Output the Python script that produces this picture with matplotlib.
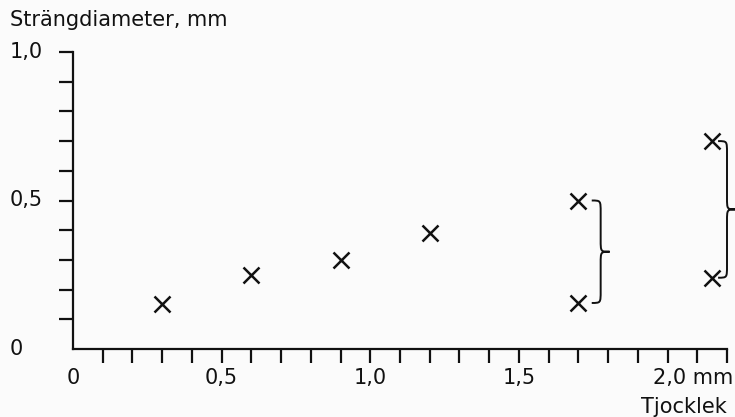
import numpy as np
import matplotlib
matplotlib.use("Agg")
import matplotlib.pyplot as plt
from matplotlib.path import Path
from matplotlib.patches import PathPatch
from matplotlib import transforms

plt.rcParams['font.family'] = ['DejaVu Sans']

# thickness (mm) vs strand diameter (mm)
thickness = [0.3, 0.6, 0.9, 1.2, 1.7, 1.7, 2.15, 2.15]
diameter = [0.15, 0.25, 0.30, 0.39, 0.50, 0.155, 0.70, 0.24]

# pairs marked with a brace: (x, top, bottom)
brace_x = [1.7, 2.15]
brace_top = [0.50, 0.70]
brace_bot = [0.155, 0.24]
brace_gap = [0.045, 0.02]

x_label_pos = [0, 0.5, 1.0, 1.5]
x_label_txt = ['0', '0,5', '1,0', '1,5']
y_label_pos = [0, 0.5, 1.0]
y_label_txt = ['0', '0,5', '1,0']

ink = '#111111'
fs = 15


def brace(ax, x, ytop, ybot, a, r):
    ymid = (ytop + ybot) / 2
    verts = [(x, ytop),
             (x + a, ytop), (x + a, ytop), (x + a, ytop - r),
             (x + a, ymid + r),
             (x + a, ymid), (x + a, ymid), (x + 2 * a, ymid),
             (x + a, ymid), (x + a, ymid), (x + a, ymid - r),
             (x + a, ybot + r),
             (x + a, ybot), (x + a, ybot), (x, ybot)]
    codes = [Path.MOVETO,
             Path.CURVE4, Path.CURVE4, Path.CURVE4,
             Path.LINETO,
             Path.CURVE4, Path.CURVE4, Path.CURVE4,
             Path.CURVE4, Path.CURVE4, Path.CURVE4,
             Path.LINETO,
             Path.CURVE4, Path.CURVE4, Path.CURVE4]
    ax.add_patch(PathPatch(Path(verts, codes), fill=False, ec=ink, lw=1.4,
                           clip_on=False))


fig = plt.figure(figsize=(7.35, 4.17), dpi=100)
fig.patch.set_facecolor('#fbfbfb')
ax = fig.add_axes([73 / 735, 1 - 349 / 417, 654 / 735, 297 / 417])
ax.set_facecolor('none')
ax.set_xlim(0, 2.2)
ax.set_ylim(0, 1.0)
for s in ['top', 'right']:
    ax.spines[s].set_visible(False)
for s in ['left', 'bottom']:
    ax.spines[s].set_linewidth(1.6)
    ax.spines[s].set_color(ink)

ax.set_xticks(np.arange(1, 23) / 10)
ax.set_yticks(np.arange(1, 11) / 10)
ax.tick_params(length=10, width=1.6, color=ink, labelbottom=False,
               labelleft=False)

ax.plot(thickness, diameter, 'x', color=ink, ms=11, mew=1.8, clip_on=False)

for i in range(len(brace_x)):
    brace(ax, brace_x[i] + brace_gap[i], brace_top[i], brace_bot[i], 0.03, 0.04)

# tick labels
ty = transforms.blended_transform_factory(fig.transFigure, ax.transData)
for p, t in zip(y_label_pos, y_label_txt):
    ax.text(10 / 735, p, t, transform=ty, ha='left', va='center',
            fontsize=fs, color=ink)
tx = transforms.blended_transform_factory(ax.transData, fig.transFigure)
for p, t in zip(x_label_pos, x_label_txt):
    ax.text(p, 1 - 378 / 417, t, transform=tx, ha='center', va='center',
            fontsize=fs, color=ink)
fig.text(733 / 735, 1 - 378 / 417, '2,0 mm', ha='right', va='center',
         fontsize=fs, color=ink)
fig.text(727 / 735, 1 - 407 / 417, 'Tjocklek', ha='right', va='center',
         fontsize=fs, color=ink)
fig.text(10 / 735, 1 - 20 / 417, 'Strängdiameter, mm', ha='left', va='center',
         fontsize=fs, color=ink)

fig.savefig('out.png', dpi=100, facecolor=fig.get_facecolor())
